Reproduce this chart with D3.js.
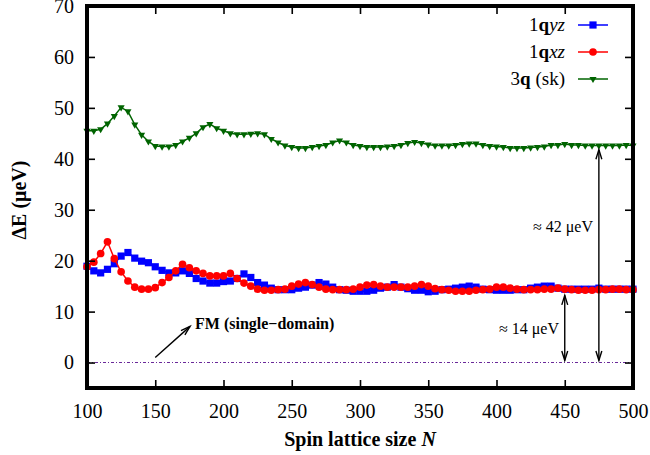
<!DOCTYPE html>
<html><head><meta charset="utf-8">
<script src="https://cdn.jsdelivr.net/npm/d3@7"></script>
<style>
body{margin:0;background:#fff}
svg{display:block}
svg text{font-family:"Liberation Serif","Tinos","Times New Roman","DejaVu Serif",serif !important;fill:#000}
</style>
</head><body>
<svg id="chart" width="650" height="455"></svg>
<script>
// ---- data ----
const latticeN = d3.range(100, 505, 5);
const yzValues = [18.9,18.0,17.6,18.3,19.4,20.9,21.6,20.5,19.9,19.6,
  18.8,18.1,17.6,17.6,18.0,17.5,16.5,16.0,15.6,15.6,
  15.9,16.0,16.5,17.4,16.7,15.7,15.2,14.6,14.3,14.3,
  14.3,14.6,14.8,15.2,15.7,15.4,14.8,14.3,14.2,14.0,
  14.0,14.0,14.2,14.6,14.8,15.3,14.8,14.5,14.2,14.2,
  13.9,14.0,14.3,14.4,14.6,14.8,15.0,14.8,14.4,14.3,
  14.2,14.2,14.2,14.3,14.3,14.6,14.8,15.0,15.0,14.6,
  14.4,14.4,14.4,14.4,14.4,14.6,14.4,14.4,14.4,14.4,14.4];
const xzValues = [18.8,19.7,21.4,23.7,20.4,17.8,16.0,14.8,14.4,14.4,
  14.7,15.7,16.7,18.0,19.3,18.6,18.0,17.5,17.0,17.0,
  17.0,17.5,16.5,15.6,15.0,14.4,14.2,14.2,14.3,14.4,
  15.0,15.4,15.7,15.3,14.8,14.4,14.3,14.3,14.3,14.4,
  14.8,15.2,15.3,15.0,14.8,14.8,14.8,14.8,15.0,15.3,
  15.0,14.5,14.3,14.2,14.0,14.0,14.0,14.2,14.3,14.4,
  14.8,14.8,14.6,14.4,14.3,14.3,14.3,14.4,14.4,14.6,
  14.4,14.3,14.2,14.2,14.2,14.3,14.3,14.4,14.4,14.3,14.3];
const skValues = [45.5,45.5,45.8,46.9,48.4,50.1,49.3,46.7,44.7,43.4,
  42.5,42.4,42.4,42.7,43.4,44.1,45.0,46.2,46.8,46.0,
  45.5,45.0,44.8,44.8,44.9,45.0,44.8,43.9,43.2,42.6,
  42.3,42.1,42.1,42.3,42.5,42.7,43.2,43.6,43.2,42.7,
  42.5,42.3,42.3,42.3,42.4,42.5,42.7,43.1,43.3,43.1,
  42.8,42.6,42.6,42.6,42.7,42.9,43.0,43.0,42.7,42.5,
  42.4,42.3,42.1,42.1,42.1,42.2,42.3,42.4,42.7,42.7,
  42.9,42.7,42.7,42.6,42.6,42.6,42.6,42.6,42.6,42.7,42.6];
const xTickValues = [100,150,200,250,300,350,400,450,500];
const yTickValues = [0,10,20,30,40,50,60,70];

// ---- layout ----
const FONT = '"Liberation Serif","Tinos","Times New Roman","DejaVu Serif",serif';
const svg = d3.select("#chart");
const x = d3.scaleLinear().domain([100, 500]).range([87, 633]);
const y = d3.scaleLinear().domain([-5, 70]).range([388, 6]);
const fs = 20;

// zero reference line (FM)
svg.append("line")
  .attr("x1", x(100)).attr("x2", x(500)).attr("y1", y(0)).attr("y2", y(0))
  .attr("stroke", "#6a2a9a").attr("stroke-width", 1.1).attr("stroke-dasharray", "3,2,1,2");

// series
const series = [
  {label: ["1", "q", "yz"], values: yzValues, color: "#0000ff", symbol: d3.symbolSquare, size: 52, rot: 0},
  {label: ["1", "q", "xz"], values: xzValues, color: "#ff0000", symbol: d3.symbolCircle, size: 46, rot: 0},
  {label: ["3", "q", " (sk)"], values: skValues, color: "#006400", symbol: d3.symbolTriangle, size: 22, rot: 180}
];
const line = d3.line().x(d => x(d[0])).y(d => y(d[1]));
const plotG = svg.append("g");
series.forEach(s => {
  const pts = latticeN.map((n, i) => [n, s.values[i]]);
  plotG.append("path").datum(pts).attr("d", line)
    .attr("fill", "none").attr("stroke", s.color).attr("stroke-width", 1.5);
  plotG.selectAll(null).data(pts).enter().append("path")
    .attr("d", d3.symbol().type(s.symbol).size(s.size))
    .attr("transform", d => `translate(${x(d[0])},${y(d[1])}) rotate(${s.rot})`)
    .attr("fill", s.color);
});

// axes (inward ticks on all sides)
const tl = 8;
function styleAxis(g) {
  g.attr("font-family", FONT);
  g.select(".domain").remove();
  g.selectAll(".tick line").attr("stroke", "#000").attr("stroke-width", 1.6);
  g.selectAll("text").style("font-size", fs + "px").style("font-family", FONT).attr("fill", "#000");
}
svg.append("g").attr("transform", `translate(0,${y(-5)})`)
  .call(d3.axisBottom(x).tickValues(xTickValues).tickSizeInner(-tl).tickSizeOuter(0).tickPadding(16))
  .call(styleAxis);
svg.append("g").attr("transform", `translate(0,${y(70)})`)
  .call(d3.axisTop(x).tickValues(xTickValues).tickSizeInner(-tl).tickSizeOuter(0).tickFormat(""))
  .call(styleAxis);
svg.append("g").attr("transform", `translate(${x(100)},0)`)
  .call(d3.axisLeft(y).tickValues(yTickValues).tickSizeInner(-tl).tickSizeOuter(0).tickPadding(13))
  .call(styleAxis);
svg.append("g").attr("transform", `translate(${x(500)},0)`)
  .call(d3.axisRight(y).tickValues(yTickValues).tickSizeInner(-tl).tickSizeOuter(0).tickFormat(""))
  .call(styleAxis);

// frame
svg.append("rect").attr("x", x(100)).attr("y", y(70))
  .attr("width", x(500) - x(100)).attr("height", y(-5) - y(70))
  .attr("fill", "none").attr("stroke", "#000").attr("stroke-width", 4);

// axis titles
const xl = svg.append("text").attr("x", 360).attr("y", 446).attr("text-anchor", "middle")
  .style("font-family", FONT).style("font-size", fs + "px").style("font-weight", "bold");
xl.append("tspan").text("Spin lattice size ");
xl.append("tspan").text("N").style("font-style", "italic");
svg.append("text").attr("transform", "translate(26,200) rotate(-90)").attr("text-anchor", "middle")
  .style("font-family", FONT).style("font-size", fs + "px").style("font-weight", "bold").text("\u0394E (\u03bceV)");

// legend
const legRows = [25, 52, 79];
series.forEach((s, i) => {
  const ly = legRows[i];
  const t = svg.append("text").attr("x", 565).attr("y", ly + 6).attr("text-anchor", "end")
    .style("font-family", FONT).style("font-size", "19px");
  t.append("tspan").text(s.label[0]);
  t.append("tspan").text(s.label[1]).style("font-weight", "bold");
  t.append("tspan").text(s.label[2]).style("font-style", i < 2 ? "italic" : "normal");
  svg.append("line").attr("x1", 578).attr("x2", 608).attr("y1", ly).attr("y2", ly)
    .attr("stroke", s.color).attr("stroke-width", 1.5);
  svg.append("path").attr("d", d3.symbol().type(s.symbol).size(s.size))
    .attr("transform", `translate(593,${ly}) rotate(${s.rot})`).attr("fill", s.color);
});

// annotations
function head(px, py, ang) {
  const L = 10, a = 0.3;
  const p = d3.path();
  p.moveTo(px - L * Math.cos(ang - a), py - L * Math.sin(ang - a));
  p.lineTo(px, py);
  p.lineTo(px - L * Math.cos(ang + a), py - L * Math.sin(ang + a));
  svg.append("path").attr("d", p.toString()).attr("fill", "none")
    .attr("stroke", "#000").attr("stroke-width", 1.4);
}
function arrow(n0, v0, n1, v1, both) {
  const x0 = x(n0), y0 = y(v0), x1 = x(n1), y1 = y(v1);
  svg.append("line").attr("x1", x0).attr("y1", y0).attr("x2", x1).attr("y2", y1)
    .attr("stroke", "#000").attr("stroke-width", 1.4);
  const ang = Math.atan2(y1 - y0, x1 - x0);
  head(x1, y1, ang);
  if (both) head(x0, y0, ang + Math.PI);
}
const gapArrows = [[475, 0.4, 475, 41.8], [450, 0.4, 450, 13.2]];
gapArrows.forEach(a => arrow(a[0], a[1], a[2], a[3], true));
arrow(150, 1, 175.5, 7.1, false);

svg.append("text").attr("x", 593).attr("y", 232).attr("text-anchor", "end")
  .style("font-family", FONT).style("font-size", "16px").text("\u2248 42 \u03bceV");
svg.append("text").attr("x", 559).attr("y", 334).attr("text-anchor", "end")
  .style("font-family", FONT).style("font-size", "16px").text("\u2248 14 \u03bceV");
svg.append("text").attr("x", 195).attr("y", 329)
  .style("font-family", FONT).style("font-size", "16px").style("font-weight", "bold").text("FM (single\u2212domain)");
</script>
</body></html>
